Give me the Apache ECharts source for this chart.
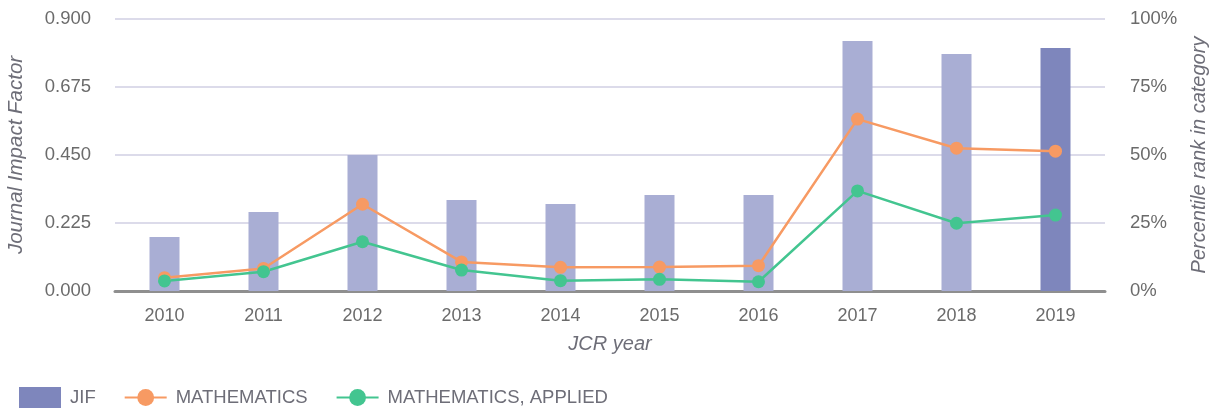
<!DOCTYPE html>
<html>
<head>
<meta charset="utf-8">
<title>JIF</title>
<script src="https://cdn.jsdelivr.net/npm/echarts@6.0.0/dist/echarts.min.js"></script>
<style>
    html, body { margin: 0; padding: 0; background: #fff; }
    #jifChart { width: 1214px; height: 412px; }
</style>
</head>
<body>
<div id="jifChart"></div>
<script>
var years = ['2010', '2011', '2012', '2013', '2014', '2015', '2016', '2017', '2018', '2019'];
var jifValues = [0.179, 0.261, 0.450, 0.301, 0.288, 0.318, 0.318, 0.827, 0.784, 0.804];
var mathRank = [4.9, 8.3, 31.9, 10.7, 8.7, 8.8, 9.3, 63.2, 52.5, 51.4];
var appliedRank = [3.7, 7.1, 18.1, 7.7, 3.8, 4.3, 3.4, 36.8, 24.9, 27.9];
var leftTicks = ['0.000', '0.225', '0.450', '0.675', '0.900'];

var chart = echarts.init(document.getElementById('jifChart'));
var font = "'Liberation Sans', Arial, sans-serif";
var labelColor = '#6b6b6b';
var nameColor = '#6e6e78';

// older years are light, the current year is darker
let barData = [];
jifValues.forEach(function(val, idx) {
    if (idx < jifValues.length - 1) {
        barData.push({ value: val, itemStyle: { color: '#a9aed4' } });
    } else {
        barData.push(val);
    }
});

let option = {
    animation: false,
    textStyle: { fontFamily: font },
    grid: {
        left: 115,
        right: 109,
        top: 19,
        bottom: 121,
        containLabel: false,
        outerBoundsMode: 'none'
    },
    legend: {
        left: 19,
        bottom: 4,
        padding: 0,
        itemWidth: 42,
        itemHeight: 21,
        itemGap: 28,
        textStyle: { fontSize: 18.5, color: nameColor, fontFamily: font, padding: [0, 0, 0, 4] },
        data: [{ name: 'JIF', icon: 'rect' }, 'MATHEMATICS', 'MATHEMATICS, APPLIED']
    },
    xAxis: {
        type: 'category',
        data: years,
        name: 'JCR year',
        nameLocation: 'middle',
        nameGap: 43,
        nameTextStyle: { fontSize: 20, fontStyle: 'italic', color: nameColor, fontFamily: font },
        axisLine: { lineStyle: { color: '#8f8f8f', width: 3 } },
        axisTick: { alignWithLabel: true, length: 8, lineStyle: { color: '#555', width: 2 } },
        axisLabel: { fontSize: 18, color: labelColor, margin: 16, fontFamily: font }
    },
    yAxis: [{
        type: 'value',
        min: 0,
        max: 0.9,
        interval: 0.225,
        name: 'Journal Impact Factor',
        nameLocation: 'middle',
        nameGap: 89,
        nameTextStyle: { fontSize: 20.5, fontStyle: 'italic', color: nameColor, fontFamily: font },
        axisLine: { show: false },
        axisTick: { show: false },
        axisLabel: {
            fontSize: 18.5,
            color: labelColor,
            margin: 24,
            fontFamily: font,
            formatter: function(val) {
                return leftTicks[Math.round(val / 0.225)];
            }
        },
        splitLine: { lineStyle: { color: '#dcdbea', width: 2 } }
    }, {
        type: 'value',
        min: 0,
        max: 100,
        interval: 25,
        name: 'Percentile rank in category',
        nameLocation: 'middle',
        nameGap: 84,
        nameTextStyle: { fontSize: 20, fontStyle: 'italic', color: nameColor, fontFamily: font },
        axisLine: { show: false },
        axisTick: { show: false },
        axisLabel: { fontSize: 18.5, color: labelColor, margin: 25, fontFamily: font, formatter: '{value}%' },
        splitLine: { show: false }
    }],
    series: [{
        name: 'JIF',
        type: 'bar',
        barWidth: 30,
        itemStyle: { color: '#7e86bc' },
        data: barData
    }, {
        name: 'MATHEMATICS',
        type: 'line',
        yAxisIndex: 1,
        symbol: 'circle',
        symbolSize: 13,
        itemStyle: { color: '#f79a63' },
        lineStyle: { width: 2.5, color: '#f79a63' },
        data: mathRank
    }, {
        name: 'MATHEMATICS, APPLIED',
        type: 'line',
        yAxisIndex: 1,
        symbol: 'circle',
        symbolSize: 13,
        itemStyle: { color: '#43c590' },
        lineStyle: { width: 2.5, color: '#43c590' },
        data: appliedRank
    }]
};

chart.setOption(option);
</script>
</body>
</html>
